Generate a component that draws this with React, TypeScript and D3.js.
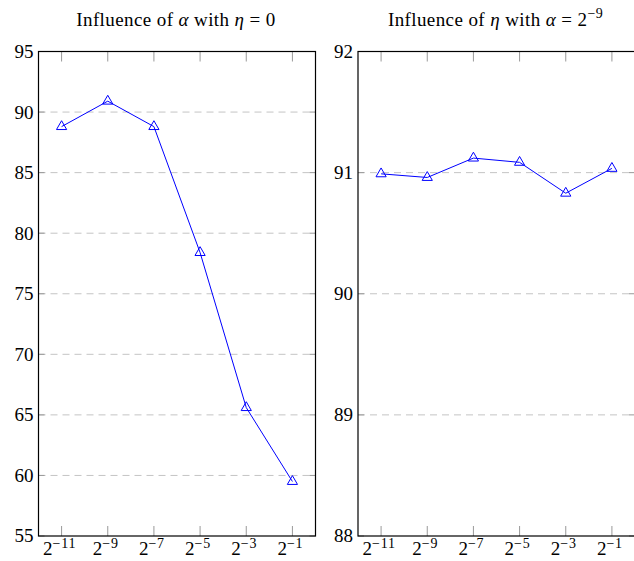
import { useEffect, useRef } from 'react'
import * as d3 from 'd3'

// exponents of 2 on the x axis
const exponents = [-11, -9, -7, -5, -3, -1]

// accuracy vs alpha (eta = 0)
const alphaAcc = [88.8, 90.9, 88.8, 78.4, 65.6, 59.5]
const alphaTicks = [55, 60, 65, 70, 75, 80, 85, 90, 95]

// accuracy vs eta (alpha = 2^-9)
const etaAcc = [90.99, 90.96, 91.12, 91.085, 90.83, 91.035]
const etaTicks = [88, 89, 90, 91, 92]

const FONT = '"Liberation Serif", "Times New Roman", serif'
const W = 634
const H = 561

interface PanelSpec {
  x0: number
  values: number[]
  ticks: number[]
  title: (t: d3.Selection<SVGTextElement, unknown, null, undefined>) => void
}

export default function App() {
  const ref = useRef<SVGSVGElement | null>(null)

  useEffect(() => {
    if (!ref.current) return
    const svg = d3.select(ref.current)
    svg.selectAll('*').remove()

    const top = 51.5
    const bottom = 536
    const pw = 277

    const panels: PanelSpec[] = [
      {
        x0: 38.5,
        values: alphaAcc,
        ticks: alphaTicks,
        title: (t) => {
          t.append('tspan').text('Influence of ')
          t.append('tspan').attr('font-style', 'italic').text('α')
          t.append('tspan').text(' with ')
          t.append('tspan').attr('font-style', 'italic').text('η')
          t.append('tspan').text(' = 0')
        },
      },
      {
        x0: 358,
        values: etaAcc,
        ticks: etaTicks,
        title: (t) => {
          t.append('tspan').text('Influence of ')
          t.append('tspan').attr('font-style', 'italic').text('η')
          t.append('tspan').text(' with ')
          t.append('tspan').attr('font-style', 'italic').text('α')
          t.append('tspan').text(' = 2')
          t.append('tspan').attr('font-size', 14).attr('dy', -8).text('−9')
        },
      },
    ]

    panels.forEach((p) => {
      const x = d3.scaleLinear().domain([-12, 0]).range([p.x0, p.x0 + pw])
      const y = d3
        .scaleLinear()
        .domain([p.ticks[0], p.ticks[p.ticks.length - 1]])
        .range([bottom, top])

      const g = svg.append('g')

      // dashed grid
      g.selectAll('.grid')
        .data(p.ticks.slice(1, -1))
        .enter()
        .append('line')
        .attr('x1', p.x0)
        .attr('x2', p.x0 + pw)
        .attr('y1', (d) => y(d))
        .attr('y2', (d) => y(d))
        .attr('stroke', '#c4c4c4')
        .attr('stroke-width', 1)
        .attr('stroke-dasharray', '7 5')

      // y ticks (left & right, inside)
      p.ticks.forEach((t) => {
        g.append('line')
          .attr('x1', p.x0)
          .attr('x2', p.x0 + 6)
          .attr('y1', y(t))
          .attr('y2', y(t))
          .attr('stroke', '#999')
        g.append('line')
          .attr('x1', p.x0 + pw - 6)
          .attr('x2', p.x0 + pw)
          .attr('y1', y(t))
          .attr('y2', y(t))
          .attr('stroke', '#999')
      })

      // x ticks (top & bottom, inside)
      exponents.forEach((e) => {
        g.append('line')
          .attr('x1', x(e))
          .attr('x2', x(e))
          .attr('y1', top)
          .attr('y2', top + 10)
          .attr('stroke', '#999')
        g.append('line')
          .attr('x1', x(e))
          .attr('x2', x(e))
          .attr('y1', bottom - 10)
          .attr('y2', bottom)
          .attr('stroke', '#999')
      })

      // frame
      g.append('rect')
        .attr('x', p.x0)
        .attr('y', top)
        .attr('width', pw)
        .attr('height', bottom - top)
        .attr('fill', 'none')
        .attr('stroke', '#000')
        .attr('stroke-width', 1.2)

      // y tick labels
      g.selectAll('.ylab')
        .data(p.ticks)
        .enter()
        .append('text')
        .attr('x', p.x0 - 5)
        .attr('y', (d) => y(d))
        .attr('dy', '0.34em')
        .attr('text-anchor', 'end')
        .attr('font-family', FONT)
        .attr('font-size', 19)
        .text((d) => String(d))

      // x tick labels 2^e
      exponents.forEach((e) => {
        const t = g
          .append('text')
          .attr('x', x(e) - 2)
          .attr('y', 555)
          .attr('text-anchor', 'middle')
          .attr('font-family', FONT)
          .attr('font-size', 19)
        t.append('tspan').text('2')
        t.append('tspan')
          .attr('font-size', 14)
          .attr('letter-spacing', 0.8)
          .attr('dy', -7)
          .text(`−${-e}`)
      })

      // title
      const title = g
        .append('text')
        .attr('x', p.x0 + pw / 2 - 1)
        .attr('y', 26)
        .attr('text-anchor', 'middle')
        .attr('font-family', FONT)
        .attr('font-size', 19)
        .attr('letter-spacing', 0.4)
      p.title(title)

      // line
      const pts = exponents.map((e, i) => [e, p.values[i]] as [number, number])
      g.append('path')
        .datum(pts)
        .attr('fill', 'none')
        .attr('stroke', '#0000ff')
        .attr('stroke-width', 1)
        .attr(
          'd',
          d3
            .line<[number, number]>()
            .x((d) => x(d[0]))
            .y((d) => y(d[1])),
        )

      // triangle markers
      const tri = d3.symbol().type(d3.symbolTriangle).size(45)
      g.selectAll('.mark')
        .data(pts)
        .enter()
        .append('path')
        .attr('transform', (d) => `translate(${x(d[0])},${y(d[1])})`)
        .attr('d', tri() ?? '')
        .attr('fill', 'none')
        .attr('stroke', '#0000ff')
        .attr('stroke-width', 1)
    })
  }, [])

  return (
    <div style={{ position: 'absolute', left: 0, top: 0 }}>
      <svg
        ref={ref}
        width={W}
        height={H}
        viewBox={`0 0 ${W} ${H}`}
        style={{ display: 'block', background: '#fff' }}
        role="img"
        aria-label="Influence charts"
      />
    </div>
  )
}
